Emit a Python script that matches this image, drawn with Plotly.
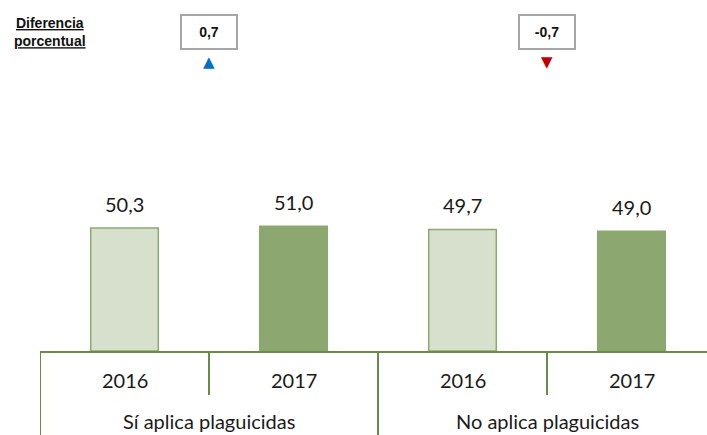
import plotly.graph_objects as go

groups = ["Sí aplica plaguicidas", "No aplica plaguicidas"]
years = ["2016", "2017"]
values_si = [50.3, 51.0]
values_no = [49.7, 49.0]
diffs = [0.7, -0.7]

cats = [f"{g} {y}" for g in groups for y in years]
vals = values_si + values_no
yr_labels = years * 2

c_light = "#D7E0CC"
c_dark = "#8CA870"
c_line = "#8BA870"
axis_col = "#6B8A4A"

H = 435
bottom_px = 351
def py(px):
    return (bottom_px - px) / bottom_px

fig = go.Figure()
fig.add_trace(go.Bar(
    x=cats, y=vals,
    marker=dict(color=[c_light, c_dark] * 2, line=dict(color=c_line, width=1.5)),
    width=0.4, hoverinfo="skip",
))

lbl_font = dict(family="Lato, Open Sans, sans-serif", size=20, color="#1a1a1a")
narrow = "Liberation Sans Narrow, Arial Narrow, Liberation Sans, Arial, sans-serif"

ann = []
for i, (c, v) in enumerate(zip(cats, vals)):
    ann.append(dict(x=c, y=v, xref="x", yref="y", text=f"{v:.1f}".replace(".", ","),
                    showarrow=False, yanchor="bottom", yshift=10, font=lbl_font))
    ann.append(dict(x=c, y=py(380), xref="x", yref="paper", text=yr_labels[i],
                    showarrow=False, yanchor="middle", font=lbl_font))

shapes = []
for gi, g in enumerate(groups):
    mid = gi * 2 + 0.5
    ann.append(dict(x=mid, y=py(421), xref="x", yref="paper", text=g, showarrow=False,
                    yanchor="middle", font=lbl_font))
    shapes.append(dict(type="line", xref="x", yref="paper", x0=gi * 2 - 0.5, x1=gi * 2 - 0.5,
                       y0=0, y1=py(440), line=dict(color=axis_col, width=2)))
    shapes.append(dict(type="line", xref="x", yref="paper", x0=mid, x1=mid,
                       y0=0, y1=py(395), line=dict(color=axis_col, width=2)))
    d = diffs[gi]
    ann.append(dict(x=mid, y=py(32), xref="x", yref="paper", yanchor="middle",
                    text=f"<b>{d:.1f}</b>".replace(".", ","), showarrow=False,
                    width=52, height=30, bordercolor="#A6A6A6", borderwidth=2, bgcolor="white",
                    font=dict(family=narrow, size=14, color="#111")))
    ann.append(dict(x=mid, y=py(62), xref="x", yref="paper", yanchor="middle",
                    text="▲" if d >= 0 else "▼", showarrow=False,
                    font=dict(family="DejaVu Sans", size=15,
                              color="#0070C0" if d >= 0 else "#C00000")))

ann.append(dict(x=(50 - 40) / (707 - 40), y=py(32), xref="paper", yref="paper", showarrow=False,
                text="<b><u>Diferencia</u></b><br><b><u>porcentual</u></b>",
                xanchor="center", yanchor="middle",
                font=dict(family="Liberation Sans, Arial, sans-serif", size=14, color="#111")))

fig.update_layout(
    width=707, height=435,
    margin=dict(l=40, r=0, t=0, b=H - bottom_px, pad=0),
    plot_bgcolor="white", paper_bgcolor="white",
    showlegend=False,
    annotations=ann, shapes=shapes,
    separators=",.",
    xaxis=dict(type="category", range=[-0.5, -0.5 + (707 - 40) / 169], showticklabels=False,
               showline=True, linecolor=axis_col, linewidth=2, ticks="", showgrid=False,
               zeroline=False, fixedrange=True),
    yaxis=dict(range=[0, bottom_px / 2.445], visible=False, fixedrange=True),
)

fig.write_html("out.html", config={"displayModeBar": False},
               post_script="document.body.style.margin='0';document.body.style.overflow='hidden';")
